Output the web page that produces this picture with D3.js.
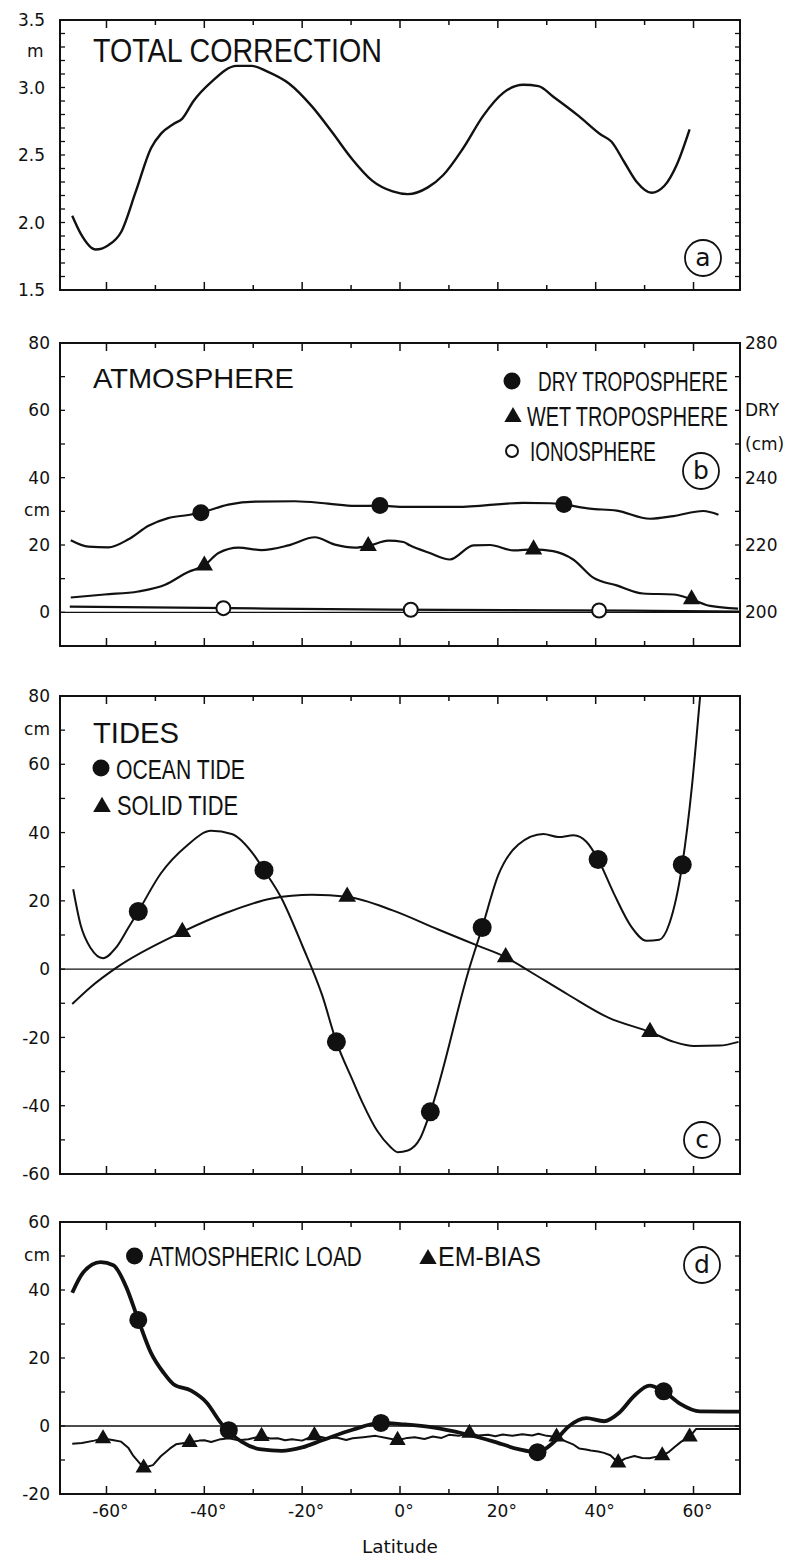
<!DOCTYPE html>
<html lang="en">
<head>
<meta charset="UTF-8">
<title>Altimeter corrections vs latitude</title>
<script src="https://d3js.org/d3.v7.min.js"></script>
<style>
    body { margin: 0; background: #ffffff; }
    svg text { fill: #111; }
    .tick-label { font-family: 'DejaVu Sans', sans-serif; font-size: 17px; }
    .title { font-family: 'Liberation Sans', Arial, sans-serif; }
    .legend { font-family: 'Liberation Sans Narrow', 'Liberation Sans', sans-serif; }
</style>
</head>
<body>
<svg id="chart" width="789" height="1557"></svg>
<script>
// ---- data (latitude in degrees) ----
// (a) total correction, m
const latTotal = [-67, -65.3, -62.2, -59.7, -57, -54, -50.9, -48.8, -46.3, -44.5, -42.2, -38.6, -33.4, -30.3, -27.2, -22.7, -18, -13.9, -9.8, -5.7, -1.5, 1.6, 5.7, 8.8, 12.9, 17, 21.1, 25.2, 28.3, 31.4, 36.5, 41.1, 43.2, 45.8, 48.4, 51.4, 54, 56.6, 59.2];
const totalCorr = [2.05, 1.92, 1.80, 1.83, 1.93, 2.23, 2.55, 2.66, 2.73, 2.77, 2.90, 3.04, 3.16, 3.16, 3.12, 3.03, 2.86, 2.67, 2.47, 2.31, 2.23, 2.21, 2.26, 2.35, 2.55, 2.79, 2.96, 3.02, 3.01, 2.93, 2.79, 2.65, 2.60, 2.45, 2.30, 2.22, 2.27, 2.43, 2.69];

// (b) atmosphere
const latDry = [-67.3, -63.7, -59.6, -55.5, -51.4, -47.4, -43.3, -40.7, -35.1, -29.6, -21.5, -14.7, -9.2, -4.1, 1.0, 11.6, 25.2, 30.7, 33.5, 38.8, 44.3, 51.1, 55.9, 62, 65.1];
const dryTropo = [221.4, 219.5, 219.3, 221.7, 225.7, 228.0, 228.9, 229.6, 232.0, 232.9, 233.0, 232.3, 231.6, 231.7, 231.3, 231.3, 232.5, 232.4, 232.0, 230.8, 230.2, 227.8, 228.6, 230.1, 229.0]; // right axis (DRY)
const latWet = [-67.3, -60.4, -53.5, -48, -43.3, -40, -37.1, -33, -28.3, -22.8, -17.4, -13.3, -9.2, -6.5, -2.4, 0.7, 2, 6.1, 10.2, 15, 18.4, 23.2, 27.3, 31.3, 35.4, 39.5, 44.3, 49.7, 55.9, 59.6, 63.4, 69.1];
const wetTropo = [4.4, 5.3, 6.2, 8.2, 12.0, 13.9, 17.6, 19.2, 18.5, 19.9, 22.3, 20.1, 19.2, 19.7, 21.3, 20.9, 19.9, 17.6, 15.7, 19.9, 20.0, 18.4, 18.7, 18.2, 15.7, 10.3, 8.0, 5.6, 5.3, 3.9, 1.9, 1.1];
const latIono = [-67.5, -40, -2, 47, 69.5];
const ionosphere = [1.7, 1.3, 0.8, 0.5, 0.2];
const dryMarks = [-40.7, -4.1, 33.5];
const wetMarks = [-40, -6.5, 27.3, 59.6];
const ionoMarks = [-36.1, 2.2, 40.7];

// (c) tides, cm
const latOcean = [-66.8, -65.3, -63.2, -60.7, -58.1, -55.5, -53.5, -48.9, -43.7, -38.6, -34.4, -30.3, -27.8, -24.2, -20.0, -15.9, -13, -9.7, -7.7, -4.6, -2, -0.5, 1.6, 4.1, 6.2, 14.2, 16.8, 20.1, 24.2, 29.3, 32.4, 35.5, 38.1, 40.5, 43.7, 47.3, 50.4, 53, 55.1, 57.7, 59.7, 61.3, 62];
const oceanTide = [23.4, 13.0, 6.1, 3.2, 6.2, 12.2, 16.9, 28.0, 36.0, 40.5, 39.6, 34.3, 29.0, 20.7, 7.0, -7.7, -21.3, -32.5, -39.0, -47.5, -52.0, -53.6, -53.1, -49.6, -41.8, 0.4, 12.2, 27.6, 36.5, 39.6, 38.7, 39.2, 37.3, 32.1, 22.2, 12.4, 8.3, 8.6, 13.5, 30.6, 53.9, 79.1, 90];
const latSolid = [-67, -63.2, -58.1, -44.5, -35.5, -26.2, -18, -10.8, -1.5, 7.8, 16, 21.6, 26.2, 34.4, 42.6, 51.1, 56, 60.1, 65.3, 69.2];
const solidTide = [-10.2, -5.2, 0.3, 10.9, 16.5, 20.7, 21.8, 21.2, 17.2, 11.6, 6.8, 3.5, -0.4, -7.5, -14.2, -18.4, -21.3, -22.5, -22.4, -21.3];
const oceanMarks = [-53.5, -27.8, -13, 6.2, 16.8, 40.5, 57.7];
const solidMarks = [-44.5, -10.8, 21.6, 51.1];

// (d) atmospheric load and EM bias, cm
const latLoad = [-67, -64.8, -61.2, -58.6, -56, -53.5, -50.9, -48.3, -46.3, -42.7, -39.6, -36.5, -32.4, -28.3, -24.2, -20, -15.9, -9.7, -3.9, 0.5, 6.7, 12.9, 19, 24.2, 28.1, 31.4, 34.4, 38.1, 41.7, 44.8, 47.9, 51, 53.9, 57.2, 61.3, 69.5];
const atmLoad = [39.2, 45.1, 48.2, 47.3, 41.0, 31.2, 21.5, 15.6, 12.3, 10.4, 7.0, 0.7, -4.6, -6.9, -7.3, -6.3, -4.2, -1.1, 0.9, 0.5, -0.4, -2.2, -4.5, -6.8, -7.7, -4.8, -0.2, 2.3, 1.4, 3.9, 8.9, 11.9, 10.2, 6.6, 4.3, 4.2];
const latEm = [-67, -65, -62.5, -60.7, -58.5, -57, -55.5, -54.5, -52.4, -50.5, -48.9, -47, -45.8, -43, -41, -40, -38.6, -37, -35, -33, -31, -29.5, -28.3, -26.5, -25, -23.5, -22.1, -20, -17.5, -15, -13, -11, -9.7, -7.5, -5, -2.5, -0.5, 1.5, 3, 5, 6.7, 8.5, 10, 12, 14.2, 16, 18, 19.5, 21, 23, 25, 27, 28.3, 30, 32, 34, 35.5, 36.6, 38, 39, 40.5, 41.7, 43, 44.6, 46, 47.9, 49.5, 51, 52.5, 53.6, 55, 56.2, 57.5, 59.2, 60.5, 69.5];
const emBias = [-5.2, -5.0, -4.3, -3.7, -4.2, -4.6, -6.5, -8.8, -12.3, -11.5, -8.9, -6.6, -5.4, -4.8, -4.3, -4.2, -4.7, -4.0, -3.6, -4.2, -3.9, -3.4, -3.0, -3.7, -3.6, -4.2, -3.9, -4.3, -2.8, -3.6, -3.4, -4.1, -3.6, -3.3, -2.9, -3.6, -4.2, -3.5, -3.3, -3.8, -3.1, -3.5, -2.6, -2.9, -2.1, -2.8, -2.6, -3.0, -2.5, -2.9, -2.4, -2.8, -2.3, -2.9, -3.2, -4.6, -5.5, -6.6, -6.9, -7.2, -7.5, -7.9, -8.6, -10.8, -9.6, -8.8, -9.4, -9.5, -9.0, -8.7, -7.6, -6.1, -4.6, -3.2, -0.9, -0.9];
const loadMarks = [-53.5, -35, -3.9, 28.1, 53.9];
const emMarks = [-60.7, -52.4, -43, -28.3, -17.5, -0.5, 14.2, 32, 44.6, 53.6, 59.2];

const latTicks = d3.range(-60, 61, 10);
const latLabels = [-60, -40, -20, 0, 20, 40, 60];

// ---- layout ----
const svg = d3.select('#chart');
const x = d3.scaleLinear().domain([-69.5, 69.5]).range([60, 740]);
const X0 = 60, X1 = 740;

const yA = d3.scaleLinear().domain([1.5, 3.5]).range([290, 20]);
const yB = d3.scaleLinear().domain([-10, 80]).range([646, 343]);
const yBdry = d3.scaleLinear().domain([190, 280]).range([646, 343]);
const yC = d3.scaleLinear().domain([-60, 80]).range([1174, 696]);
const yD = d3.scaleLinear().domain([-20, 60]).range([1494, 1222]);

function interp(lats, vals, L) {
    return d3.scaleLinear().domain(lats).range(vals)(L);
}

const fmt = v => (v < 0 ? '-' : '') + Math.abs(v);

function frame(y, minorStep, labels, fmtLabel, labelX) {
    const g = svg.append('g');
    const [y0, y1] = y.range();
    g.append('rect')
        .attr('x', X0).attr('y', y1)
        .attr('width', X1 - X0).attr('height', y0 - y1)
        .attr('fill', 'none').attr('stroke', '#111').attr('stroke-width', 2);

    // latitude ticks on top and bottom, pointing in
    latTicks.forEach(t => {
        const len = t % 20 === 0 ? 8 : 5;
        g.append('line').attr('x1', x(t)).attr('x2', x(t))
            .attr('y1', y1).attr('y2', y1 + len)
            .attr('stroke', '#111').attr('stroke-width', 1.5);
        g.append('line').attr('x1', x(t)).attr('x2', x(t))
            .attr('y1', y0).attr('y2', y0 - len)
            .attr('stroke', '#111').attr('stroke-width', 1.5);
    });

    // minor ticks left and right, pointing in
    const [d0, d1] = y.domain();
    const n = Math.round((d1 - d0) / minorStep);
    for (let i = 1; i < n; i++) {
        const v = d0 + i * minorStep;
        g.append('line').attr('x1', X0).attr('x2', X0 + 5)
            .attr('y1', y(v)).attr('y2', y(v))
            .attr('stroke', '#111').attr('stroke-width', 1.3);
        g.append('line').attr('x1', X1).attr('x2', X1 - 5)
            .attr('y1', y(v)).attr('y2', y(v))
            .attr('stroke', '#111').attr('stroke-width', 1.3);
    }

    g.selectAll('text.tick-label')
        .data(labels)
        .join('text')
        .attr('class', 'tick-label')
        .attr('x', labelX)
        .attr('y', d => y(d))
        .attr('dy', '0.36em')
        .attr('text-anchor', 'end')
        .text(fmtLabel);
    return g;
}

function zeroLine(y) {
    svg.append('line')
        .attr('x1', X0).attr('x2', X1)
        .attr('y1', y(0)).attr('y2', y(0))
        .attr('stroke', '#111').attr('stroke-width', 1.3);
}

function curve(lats, vals, y, width, curveType, clip) {
    const line = d3.line()
        .x(d => x(d[0]))
        .y(d => y(d[1]))
        .curve(curveType || d3.curveMonotoneX);
    const p = svg.append('path')
        .datum(d3.zip(lats, vals))
        .attr('d', line)
        .attr('fill', 'none')
        .attr('stroke', '#111')
        .attr('stroke-width', width)
        .attr('stroke-linejoin', 'round');
    if (clip) p.attr('clip-path', clip);
}

function dots(marks, lats, vals, y, r) {
    svg.append('g').selectAll('circle')
        .data(marks)
        .join('circle')
        .attr('cx', d => x(d))
        .attr('cy', d => y(interp(lats, vals, d)))
        .attr('r', r)
        .attr('fill', '#111');
}

function openDots(marks, lats, vals, y, r) {
    svg.append('g').selectAll('circle')
        .data(marks)
        .join('circle')
        .attr('cx', d => x(d))
        .attr('cy', d => y(interp(lats, vals, d)))
        .attr('r', r)
        .attr('fill', '#fff')
        .attr('stroke', '#111')
        .attr('stroke-width', 2);
}

function triangles(marks, lats, vals, y, size) {
    const sym = d3.symbol(d3.symbolTriangle, size);
    svg.append('g').selectAll('path')
        .data(marks)
        .join('path')
        .attr('transform', d => `translate(${x(d)},${y(interp(lats, vals, d))})`)
        .attr('d', sym)
        .attr('fill', '#111');
}

// text squeezed horizontally to the width it has in the figure
function text(str, px, py, size, len, cls) {
    const t = svg.append('text')
        .attr('class', cls || 'title')
        .attr('x', 0).attr('y', 0)
        .attr('font-size', size)
        .text(str);
    const w = t.node().getComputedTextLength();
    t.attr('transform', `translate(${px},${py}) scale(${len / w},1)`);
    return t;
}

function panelTag(letter, cx, cy) {
    svg.append('circle').attr('cx', cx).attr('cy', cy).attr('r', 18)
        .attr('fill', 'none').attr('stroke', '#111').attr('stroke-width', 1.8);
    svg.append('text')
        .attr('x', cx).attr('y', cy).attr('dy', '0.32em')
        .attr('text-anchor', 'middle')
        .attr('font-family', 'DejaVu Sans, sans-serif')
        .attr('font-size', 25)
        .text(letter);
}

function legendDot(cx, cy, r, open) {
    svg.append('circle').attr('cx', cx).attr('cy', cy).attr('r', r)
        .attr('fill', open ? '#fff' : '#111')
        .attr('stroke', '#111').attr('stroke-width', open ? 2 : 0);
}

function legendTri(cx, cy, size) {
    svg.append('path')
        .attr('transform', `translate(${cx},${cy})`)
        .attr('d', d3.symbol(d3.symbolTriangle, size))
        .attr('fill', '#111');
}

// clip path for the tides panel
const defs = svg.append('defs');
defs.append('clipPath').attr('id', 'clipC')
    .append('rect').attr('x', X0).attr('y', yC.range()[1])
    .attr('width', X1 - X0).attr('height', yC.range()[0] - yC.range()[1]);

// ---- (a) total correction ----
frame(yA, 0.1, [1.5, 2.0, 2.5, 3.0, 3.5], d => d.toFixed(1), 45);
svg.append('text').attr('class', 'tick-label').attr('x', 27).attr('y', yA(3.25))
    .attr('dy', '0.2em').attr('font-size', 15).text('m');
curve(latTotal, totalCorr, yA, 2.4);
text('TOTAL CORRECTION', 93, 62, 33, 289);
panelTag('a', 703, 258);

// ---- (b) atmosphere ----
frame(yB, 10, [0, 20, 40, 60, 80], fmt, 50);
svg.append('text').attr('class', 'tick-label').attr('x', 50).attr('y', yB(30))
    .attr('dy', '0.3em').attr('text-anchor', 'end').attr('font-size', 15).text('cm');
const rightLabels = [[280, '280'], [260, 'DRY'], [250, '(cm)'], [240, '240'], [220, '220'], [200, '200']];
svg.append('g').selectAll('text')
    .data(rightLabels)
    .join('text')
    .attr('class', 'tick-label')
    .attr('x', 745)
    .attr('y', d => yBdry(d[0]))
    .attr('dy', '0.36em')
    .attr('font-size', d => isNaN(+d[1]) ? 15 : 17)
    .text(d => d[1]);
zeroLine(yB);
curve(latIono, ionosphere, yB, 2.2);
curve(latWet, wetTropo, yB, 2.2);
curve(latDry, dryTropo, yBdry, 2.2);
dots(dryMarks, latDry, dryTropo, yBdry, 8.5);
triangles(wetMarks, latWet, wetTropo, yB, 130);
openDots(ionoMarks, latIono, ionosphere, yB, 7);
text('ATMOSPHERE', 93, 388, 28, 201);
legendDot(512, 381, 8.5);
text('DRY TROPOSPHERE', 538, 391, 28, 190, 'legend');
legendTri(513, 417, 130);
text('WET TROPOSPHERE', 527, 426, 28, 201, 'legend');
legendDot(512, 451, 6, true);
text('IONOSPHERE', 530, 461, 28, 126, 'legend');
panelTag('b', 701, 471);

// ---- (c) tides ----
frame(yC, 10, [-60, -40, -20, 0, 20, 40, 60, 80], fmt, 50);
svg.append('text').attr('class', 'tick-label').attr('x', 50).attr('y', yC(70))
    .attr('dy', '0.3em').attr('text-anchor', 'end').attr('font-size', 15).text('cm');
zeroLine(yC);
curve(latSolid, solidTide, yC, 2);
curve(latOcean, oceanTide, yC, 2, d3.curveMonotoneX, 'url(#clipC)');
dots(oceanMarks, latOcean, oceanTide, yC, 9.5);
triangles(solidMarks, latSolid, solidTide, yC, 135);
text('TIDES', 93, 743, 29, 86);
legendDot(101, 768, 8.5);
text('OCEAN TIDE', 116, 779, 28, 129, 'legend');
legendTri(102, 807, 135);
text('SOLID TIDE', 117, 815, 28, 121, 'legend');
panelTag('c', 702, 1140);

// ---- (d) atmospheric load, EM bias ----
frame(yD, 10, [-20, 0, 20, 40, 60], fmt, 50);
svg.append('text').attr('class', 'tick-label').attr('x', 50).attr('y', yD(50))
    .attr('dy', '0.3em').attr('text-anchor', 'end').attr('font-size', 15).text('cm');
zeroLine(yD);
curve(latEm, emBias, yD, 2, d3.curveLinear);
curve(latLoad, atmLoad, yD, 3.8);
dots(loadMarks, latLoad, atmLoad, yD, 9);
triangles(emMarks, latEm, emBias, yD, 115);
legendDot(134.5, 1256, 8.5);
text('ATMOSPHERIC LOAD', 149, 1266, 28, 213, 'legend');
legendTri(428, 1259, 130);
text('EM-BIAS', 438, 1266, 28, 103, 'legend');
panelTag('d', 702, 1265);

// latitude labels
svg.append('g').selectAll('text')
    .data(latLabels)
    .join('text')
    .attr('class', 'tick-label')
    .attr('x', d => x(d) + 4)
    .attr('y', 1517)
    .attr('text-anchor', 'middle')
    .attr('font-size', 17)
    .text(d => fmt(d) + '°');
text('Latitude', 362, 1553, 20, 76, 'tick-label');
</script>
</body>
</html>
